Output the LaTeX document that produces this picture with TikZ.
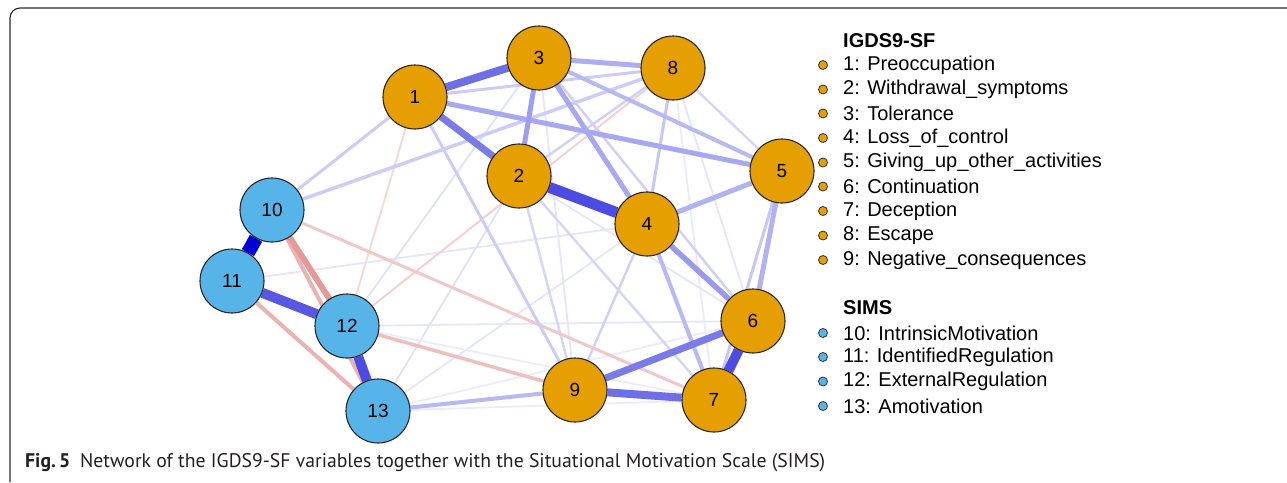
\documentclass[tikz,border=0pt]{standalone}
\usepackage{fontspec}
\setmainfont{Liberation Sans}
\newfontfamily\capfont{PT Sans}
\usetikzlibrary{backgrounds}
\definecolor{igdsorange}{RGB}{230,159,0}
\definecolor{simsblue}{RGB}{86,180,233}
\definecolor{edgeblue}{RGB}{0,0,213}
\definecolor{edgered}{RGB}{191,0,0}
\definecolor{capgray}{RGB}{35,31,32}
\begin{document}
\begin{tikzpicture}
	[x=1pt,y=-1pt,
	vnode/.style={circle,draw=black!85,line width=1.1pt,minimum size=64pt,inner sep=0pt,font=\fontsize{19}{19}\selectfont},
	igds/.style={vnode,fill=igdsorange},
	sims/.style={vnode,fill=simsblue},
	posedge/.style 2 args={line width=#1pt,draw=edgeblue!#2!white},
	negedge/.style 2 args={line width=#1pt,draw=edgered!#2!white},
	ldot/.style={circle,draw=black!80,line width=0.8pt,minimum size=9pt,inner sep=0pt},
	entry/.style={anchor=west,inner sep=0pt,font=\fontsize{20}{20}\selectfont},
	legendhead/.style={anchor=west,inner sep=0pt,font=\fontsize{20}{20}\selectfont\bfseries}]
	\useasboundingbox (0,0) rectangle (1287,482);
	% frame and caption
	\draw[line width=1.1pt,black!85,rounded corners=10pt] (10,482) -- (10,8) -- (1287,8);
	\node[anchor=base west,inner sep=0pt,text=capgray,font=\capfont\fontsize{19.7}{19.7}\selectfont,name=caption] at (25,467)
		{\textbf{Fig.\,5}\enspace Network of the IGDS9-SF variables together with the Situational Motivation Scale (SIMS)};
	% variables
	\node[igds,name=n1] at (415,97) {1};
	\node[igds,name=n2] at (519,176) {2};
	\node[igds,name=n3] at (539,58) {3};
	\node[igds,name=n4] at (647,224) {4};
	\node[igds,name=n5] at (782,171) {5};
	\node[igds,name=n6] at (753,321) {6};
	\node[igds,name=n7] at (714,400) {7};
	\node[igds,name=n8] at (673,68) {8};
	\node[igds,name=n9] at (575,390) {9};
	\node[sims,name=n10] at (272,210) {10};
	\node[sims,name=n11] at (232,281) {11};
	\node[sims,name=n12] at (347,326) {12};
	\node[sims,name=n13] at (378,411) {13};
	% edges
	\begin{scope}[on background layer]
		\draw[posedge={1.8}{10}] (n11)--(n4);
		\draw[posedge={1.8}{10}] (n12)--(n6);
		\draw[posedge={1.8}{8}] (n13)--(n6);
		\draw[posedge={1.8}{8}] (n13)--(n7);
		\draw[posedge={1.8}{10}] (n13)--(n4);
		\draw[posedge={1.8}{12}] (n13)--(n2);
		\draw[posedge={1.8}{12}] (n12)--(n3);
		\draw[posedge={1.8}{8}] (n12)--(n7);
		\draw[posedge={1.8}{10}] (n3)--(n9);
		\draw[posedge={1.8}{10}] (n8)--(n6);
		\draw[posedge={1.8}{8}] (n8)--(n7);
		\draw[posedge={1.8}{10}] (n2)--(n6);
		\draw[negedge={2}{15}] (n1)--(n12);
		\draw[negedge={2}{18}] (n12)--(n8);
		\draw[posedge={2.5}{16}] (n2)--(n9);
		\draw[posedge={2.5}{18}] (n2)--(n8);
		\draw[posedge={2.5}{16}] (n8)--(n5);
		\draw[posedge={2.5}{16}] (n2)--(n7);
		\draw[posedge={2.5}{18}] (n3)--(n6);
		\draw[posedge={2.5}{18}] (n4)--(n9);
		\draw[negedge={3}{22}] (n10)--(n7);
		\draw[negedge={3.5}{25}] (n12)--(n9);
		\draw[posedge={3}{20}] (n10)--(n1);
		\draw[posedge={3.5}{20}] (n10)--(n8);
		\draw[posedge={3}{20}] (n1)--(n8);
		\draw[posedge={3}{20}] (n1)--(n9);
		\draw[posedge={3}{22}] (n5)--(n7);
		\draw[posedge={3}{22}] (n8)--(n4);
		\draw[negedge={4}{30}] (n10)--(n13);
		\draw[negedge={4}{30}] (n11)--(n13);
		\draw[posedge={4}{28}] (n4)--(n7);
		\draw[posedge={4}{28}] (n13)--(n9);
		\draw[posedge={4}{28}] (n3)--(n5);
		\draw[posedge={5}{32}] (n3)--(n8);
		\draw[posedge={5}{34}] (n1)--(n5);
		\draw[posedge={5}{30}] (n4)--(n5);
		\draw[posedge={5}{30}] (n5)--(n6);
		\draw[posedge={5}{38}] (n3)--(n2);
		\draw[posedge={5}{34}] (n3)--(n4);
		\draw[posedge={5.5}{40}] (n4)--(n6);
		\draw[negedge={6}{40}] (n10)--(n12);
		\draw[posedge={7}{52}] (n1)--(n2);
		\draw[posedge={7}{52}] (n9)--(n6);
		\draw[posedge={8}{57}] (n1)--(n3);
		\draw[posedge={8}{57}] (n9)--(n7);
		\draw[posedge={10}{66}] (n11)--(n12);
		\draw[posedge={10}{70}] (n12)--(n13);
		\draw[posedge={10}{70}] (n6)--(n7);
		\draw[posedge={11}{70}] (n2)--(n4);
		\draw[posedge={14}{100}] (n10)--(n11);
	\end{scope}
	% legend
	\node[legendhead,name=h1] at (843,41) {IGDS9-SF};
	\node[ldot,fill=igdsorange,name=d1] at (823,65) {};
	\node[entry,name=l1] at (843,65) {1: Preoccupation};
	\node[ldot,fill=igdsorange,name=d2] at (823,89.5) {};
	\node[entry,name=l2] at (843,89.5) {2: Withdrawal\_symptoms};
	\node[ldot,fill=igdsorange,name=d3] at (823,113.5) {};
	\node[entry,name=l3] at (843,113.5) {3: Tolerance};
	\node[ldot,fill=igdsorange,name=d4] at (823,138) {};
	\node[entry,name=l4] at (843,138) {4: Loss\_of\_control};
	\node[ldot,fill=igdsorange,name=d5] at (823,162.5) {};
	\node[entry,name=l5] at (843,162.5) {5: Giving\_up\_other\_activities};
	\node[ldot,fill=igdsorange,name=d6] at (823,186.5) {};
	\node[entry,name=l6] at (843,186.5) {6: Continuation};
	\node[ldot,fill=igdsorange,name=d7] at (823,211) {};
	\node[entry,name=l7] at (843,211) {7: Deception};
	\node[ldot,fill=igdsorange,name=d8] at (823,235.5) {};
	\node[entry,name=l8] at (843,235.5) {8: Escape};
	\node[ldot,fill=igdsorange,name=d9] at (823,260) {};
	\node[entry,name=l9] at (843,260) {9: Negative\_consequences};
	\node[legendhead,name=h2] at (843,308) {SIMS};
	\node[ldot,fill=simsblue,name=d10] at (823,333) {};
	\node[entry,name=l10] at (843,333) {10: IntrinsicMotivation};
	\node[ldot,fill=simsblue,name=d11] at (823,357) {};
	\node[entry,name=l11] at (843,357) {11: IdentifiedRegulation};
	\node[ldot,fill=simsblue,name=d12] at (823,381.5) {};
	\node[entry,name=l12] at (843,381.5) {12: ExternalRegulation};
	\node[ldot,fill=simsblue,name=d13] at (823,406) {};
	\node[entry,name=l13] at (843,406) {13: Amotivation};
\end{tikzpicture}
\end{document}
